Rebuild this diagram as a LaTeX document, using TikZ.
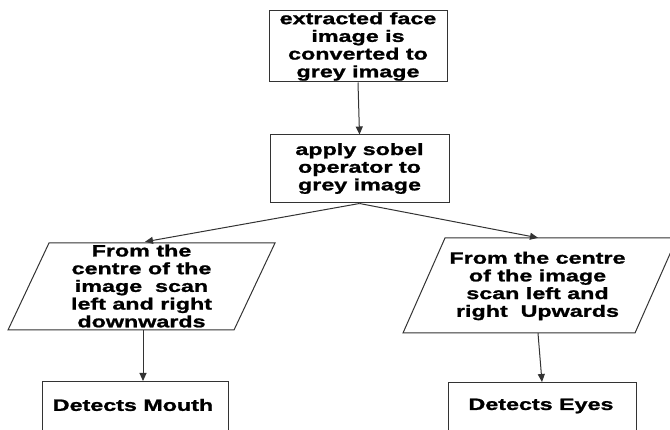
\documentclass[tikz,border=0pt]{standalone}
\usepackage{fontspec}
\newfontfamily\wf[FakeStretch=1.42,FakeBold=1.3]{Liberation Sans}
\usetikzlibrary{arrows.meta,calc}
\begin{document}
\begin{tikzpicture}[x=1pt,y=-1pt,
  ln/.style={draw=black!80,line width=1pt},
  arr/.style={ln,-{Triangle[length=8pt,width=7pt]}},
  txt/.style={align=center,inner sep=0pt,font=\wf\bfseries\fontsize{16.4}{17.7}\selectfont,text=black},
  boxnode/.style={ln,rectangle,inner sep=0pt},
  ghost/.style={rectangle,inner sep=0pt}]
\useasboundingbox (0,0) rectangle (670,430);
% box 1
\node[boxnode,minimum width=178pt,minimum height=71pt] (b1) at (358,46.5) {};
\node[txt] (t1) at (358,46.5) {extracted face\\image is\\converted to\\grey image};
% box 2
\node[boxnode,minimum width=179pt,minimum height=68pt] (b2) at (359.5,169) {};
\node[txt] (t2) at (359.5,168.5) {apply sobel\\operator to\\grey image};
% parallelogram left
\node[ghost,minimum width=1pt,minimum height=87pt] (p1) at (143,286.5) {};
\draw[ln] (49,243) -- (275,243) -- (234,330) -- (8,330) -- cycle;
\node[txt] (t3) at (141.5,286) {From the\\centre of the\\image\ \ scan\\left and right\\downwards};
% parallelogram right
\node[ghost,minimum width=1pt,minimum height=95pt] (p2) at (538,285.5) {};
\draw[ln] (445,238) -- (677,238) -- (635,333) -- (403,333) -- cycle;
\node[txt] (t4) at (537.5,286) {From the centre\\of the image\\scan left and\\right\ \ Upwards};
% bottom boxes
\node[boxnode,minimum width=186pt,minimum height=70pt,anchor=north] (m) at (135,381) {};
\node[txt] (t5) at (133,405) {Detects Mouth};
\node[boxnode,minimum width=188pt,minimum height=70pt,anchor=north] (e) at (542,382) {};
\node[txt] (t6) at (541,406) {Detects Eyes};
% connectors
\draw[arr] (b1.south) -- (b2.north);
\draw[arr] (b2.south) -- ($(p1.north)+(2,-1)$);
\draw[arr] (b2.south) -- (p2.north);
\draw[arr] (p1.south) -- (p1.south |- m.north);
\draw[arr] (p2.south) -- (e.north);
\end{tikzpicture}
\end{document}
